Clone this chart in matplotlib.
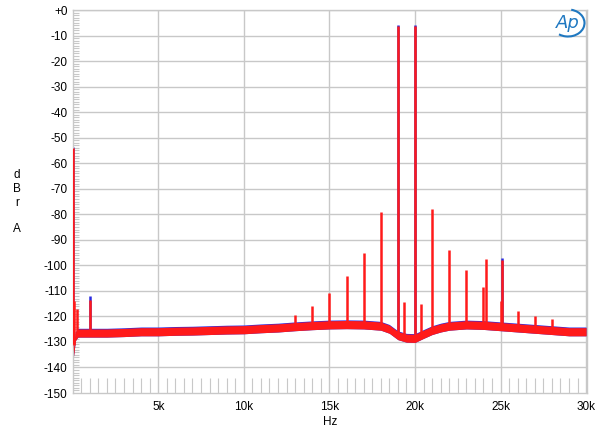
import numpy as np
import matplotlib.pyplot as plt
from matplotlib.patches import Arc

plt.rcParams['font.family'] = ['Liberation Sans', 'DejaVu Sans']

# noise floor (Hz, dBr)
floor_f = [20, 60, 150, 300, 1000, 2000, 3000, 4000, 5000, 6000, 7000, 8000, 9000,
           10000, 11000, 12000, 13000, 14000, 15000, 16000, 17000, 18000, 18500,
           19000, 19500, 20000, 20500, 21000, 21500, 22000, 23000, 24000, 25000,
           26000, 27000, 28000, 29000, 30000]
floor_db = [-128, -134, -128, -126.5, -126.5, -126.5, -126.3, -126, -126, -125.8,
            -125.7, -125.5, -125.3, -125.2, -124.8, -124.5, -124, -123.6, -123.3,
            -123.2, -123.3, -123.8, -125, -127.5, -128.5, -128.6, -127, -125.5,
            -124.5, -123.8, -123.3, -123.5, -124, -124.5, -125, -125.5, -126, -126]

# spurs / tones, red channel
spur_f = [40, 100, 250, 1000, 13000, 14000, 15000, 16000, 17000, 18000, 19000,
          19350, 20000, 20330, 21000, 22000, 23000, 23950, 24140, 25000, 25100,
          26000, 27000, 28000]
spur_db = [-54, -114, -117, -113.5, -119.5, -116, -111, -104, -95, -79, -6.3,
           -114.5, -6.3, -115, -78, -94, -102, -108.5, -97.5, -114, -98,
           -118, -120, -121]

# blue channel tips that poke out above red
blue_f = [40, 1000, 19000, 20000, 25100]
blue_db = [-53.5, -112, -5.8, -5.8, -97]

fig = plt.figure(figsize=(6, 4.36), dpi=100)
ax = fig.add_axes([0.1217, 0.0986, 0.8566, 0.8784])

grid_c = '#c8c8c8'
for y in range(-140, 1, 10):
    ax.axhline(y, color=grid_c, lw=1, zorder=0)
for x in range(5000, 30001, 5000):
    ax.axvline(x, color=grid_c, lw=1, zorder=0)

band = 1.6
ff = np.array(floor_f)
fd = np.array(floor_db)
ax.fill_between(ff, fd - band, fd + band + 0.25, color='#2a2ae0', lw=0, zorder=2)
ax.fill_between(ff, fd - band, fd + band, color='#ff1a1a', lw=0, zorder=3)

base = np.interp(blue_f, floor_f, floor_db)
ax.vlines(blue_f, base, blue_db, color='#2a2ae0', lw=1.8, zorder=2)
base = np.interp(spur_f, floor_f, floor_db)
ax.vlines(spur_f, base, spur_db, color='#ff1a1a', lw=1.8, zorder=4)

ax.set_xlim(20, 30050)
ax.set_ylim(-150, 0)

ax.set_yticks(range(-150, 1, 10))
ax.set_yticklabels(['+0' if v == 0 else str(v) for v in range(-150, 1, 10)])
ax.set_yticks(range(-150, 1, 1), minor=True)
ax.set_xticks(range(5000, 30001, 5000))
ax.set_xticklabels(['5k', '10k', '15k', '20k', '25k', '30k'])
ax.set_xticks(range(500, 30001, 500), minor=True)

ax.tick_params(axis='y', which='major', length=0, labelsize=8.5, pad=4)
ax.tick_params(axis='y', which='minor', direction='in', length=4, color=grid_c, width=0.8)
ax.tick_params(axis='x', which='major', length=0, labelsize=8.5, pad=6)
ax.tick_params(axis='x', which='minor', direction='in', length=11, color=grid_c, width=0.8)

for s in ax.spines.values():
    s.set_color(grid_c)
    s.set_linewidth(1)

fig.text(330 / 600, 1 - 422 / 436, 'Hz', ha='center', va='center', fontsize=8.5)
for ch, yy in zip(['d', 'B', 'r', 'A'], [175, 189, 203, 229]):
    fig.text(17 / 600, 1 - yy / 436, ch, ha='center', va='center', fontsize=8.5)

# AP logo
fig.text(568 / 600, 1 - 23 / 436, 'Ap', ha='center', va='center', fontsize=13,
         style='italic', color='#1f78c1', family='DejaVu Sans')
logo = Arc((568 / 600, 1 - 23 / 436), 0.055, 0.062, theta1=-120, theta2=80,
           transform=fig.transFigure, color='#1f78c1', lw=1.5)
fig.add_artist(logo)

fig.savefig('out.png', dpi=100)
